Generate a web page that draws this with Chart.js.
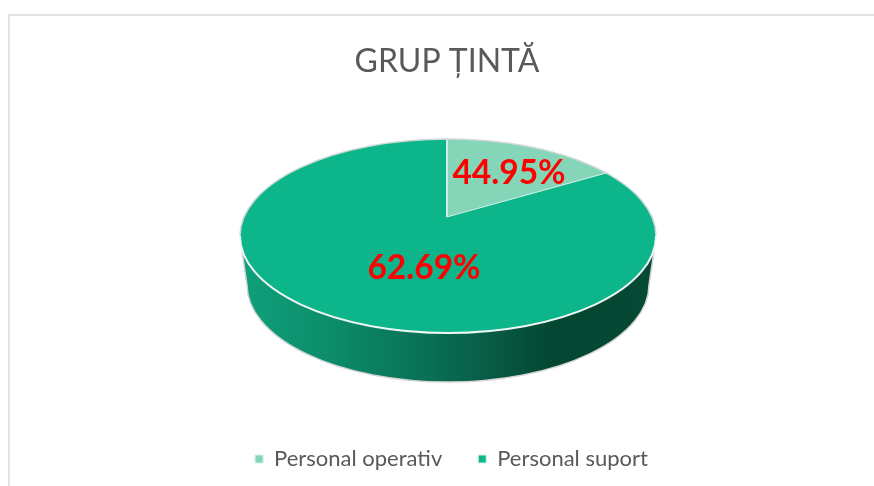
<!DOCTYPE html>
<html>
<head>
<meta charset="utf-8">
<title>GRUP ȚINTĂ</title>
<script src="https://cdn.jsdelivr.net/npm/chart.js@4"></script>
<style>
html,body{margin:0;padding:0;background:#fff;width:874px;height:486px;overflow:hidden}
#frame{position:absolute;left:8px;top:14px;width:866px;height:472px;border-left:2px solid #e2e2e2;border-top:2px solid #e2e2e2;box-sizing:border-box}
#c{position:absolute;left:0;top:0}
</style>
</head>
<body>
<div id="frame"></div>
<canvas id="c" width="874" height="486"></canvas>
<script>
const titleText = 'GRUP ȚINTĂ';
const categories = ['Personal operativ', 'Personal suport'];
const sliceShares = [15, 85];
const printedLabels = ['44.95%', '62.69%'];
const sliceColors = ['#85d6b8', '#0db58a'];

const disk = {cx: 448, cy: 236, rx: 208, ry: 97, depth: 49, apexX: 447, apexY: 217, reachX: 305, reachY: 116};

function diskPath(ctx, start, end) {
  ctx.beginPath();
  ctx.ellipse(disk.cx, disk.cy, disk.rx, disk.ry, 0, start, end);
}

function wallPath(ctx) {
  const {cx, cy, rx, ry, depth} = disk;
  ctx.beginPath();
  ctx.moveTo(cx + rx - 2, cy + 15);
  ctx.ellipse(cx, cy + depth, rx - 7, ry, 0, 0, Math.PI);
  ctx.lineTo(cx - rx + 2, cy + 15);
}

const pie3d = {
  id: 'pie3d',
  afterLayout(chart) {
    const lg = chart.legend;
    lg.left += 4.5; lg.right += 4.5;
  },
  beforeDatasetsDraw(chart) {
    const ctx = chart.ctx;
    const arc = chart.getDatasetMeta(0).data[0];
    const r = arc.outerRadius;
    const {cx, rx, apexX, apexY, reachX, reachY} = disk;
    ctx.save();
    const g = ctx.createLinearGradient(cx - rx, 0, cx + rx, 0);
    g.addColorStop(0, '#0fa17b');
    g.addColorStop(0.24, '#0c8a68');
    g.addColorStop(0.55, '#08634a');
    g.addColorStop(0.76, '#044632');
    g.addColorStop(1, '#054a35');
    wallPath(ctx);
    ctx.closePath();
    ctx.fillStyle = g;
    ctx.fill();
    wallPath(ctx);
    ctx.strokeStyle = '#d4d4d4';
    ctx.lineWidth = 1.5;
    ctx.stroke();
    ctx.restore();
    ctx.save();
    diskPath(ctx, 0, 2 * Math.PI);
    ctx.clip();
    ctx.translate(apexX, apexY);
    ctx.scale(reachX / r, reachY / r);
    ctx.translate(-arc.x, -arc.y);
  },
  afterDatasetsDraw(chart) {
    const ctx = chart.ctx;
    ctx.restore();
    const {cx, cy} = disk;
    ctx.save();
    diskPath(ctx, Math.PI, 2 * Math.PI);
    ctx.strokeStyle = '#cfd8d5';
    ctx.lineWidth = 1.5;
    ctx.stroke();
    diskPath(ctx, 0, Math.PI);
    ctx.strokeStyle = '#eef6f3';
    ctx.lineWidth = 2;
    ctx.stroke();
    ctx.font = 'bold 33.5px Lato';
    ctx.fillStyle = '#ff0000';
    ctx.textAlign = 'center';
    ctx.textBaseline = 'middle';
    ctx.fillText(printedLabels[0], cx + 61, cy - 63);
    ctx.fillText(printedLabels[1], cx - 24, cy + 32);
    ctx.restore();
  }
};

new Chart(document.getElementById('c'), {
  type: 'pie',
  data: {
    labels: categories,
    datasets: [{
      data: sliceShares,
      backgroundColor: sliceColors,
      borderColor: '#d5efe6',
      borderWidth: 1,
      clip: false
    }]
  },
  options: {
    responsive: false,
    animation: false,
    events: [],
    layout: {padding: {top: 42, bottom: 6, left: 20}},
    plugins: {
      tooltip: {enabled: false},
      title: {
        display: true,
        text: titleText,
        color: '#595959',
        font: {family: 'Lato', size: 32, weight: 'normal'},
        padding: {top: 0, bottom: 10}
      },
      legend: {
        position: 'bottom',
        labels: {
          color: '#595959',
          font: {family: 'Lato', size: 22},
          boxWidth: 8,
          boxHeight: 8,
          padding: 36
        }
      }
    }
  },
  plugins: [pie3d]
});
</script>
</body>
</html>
